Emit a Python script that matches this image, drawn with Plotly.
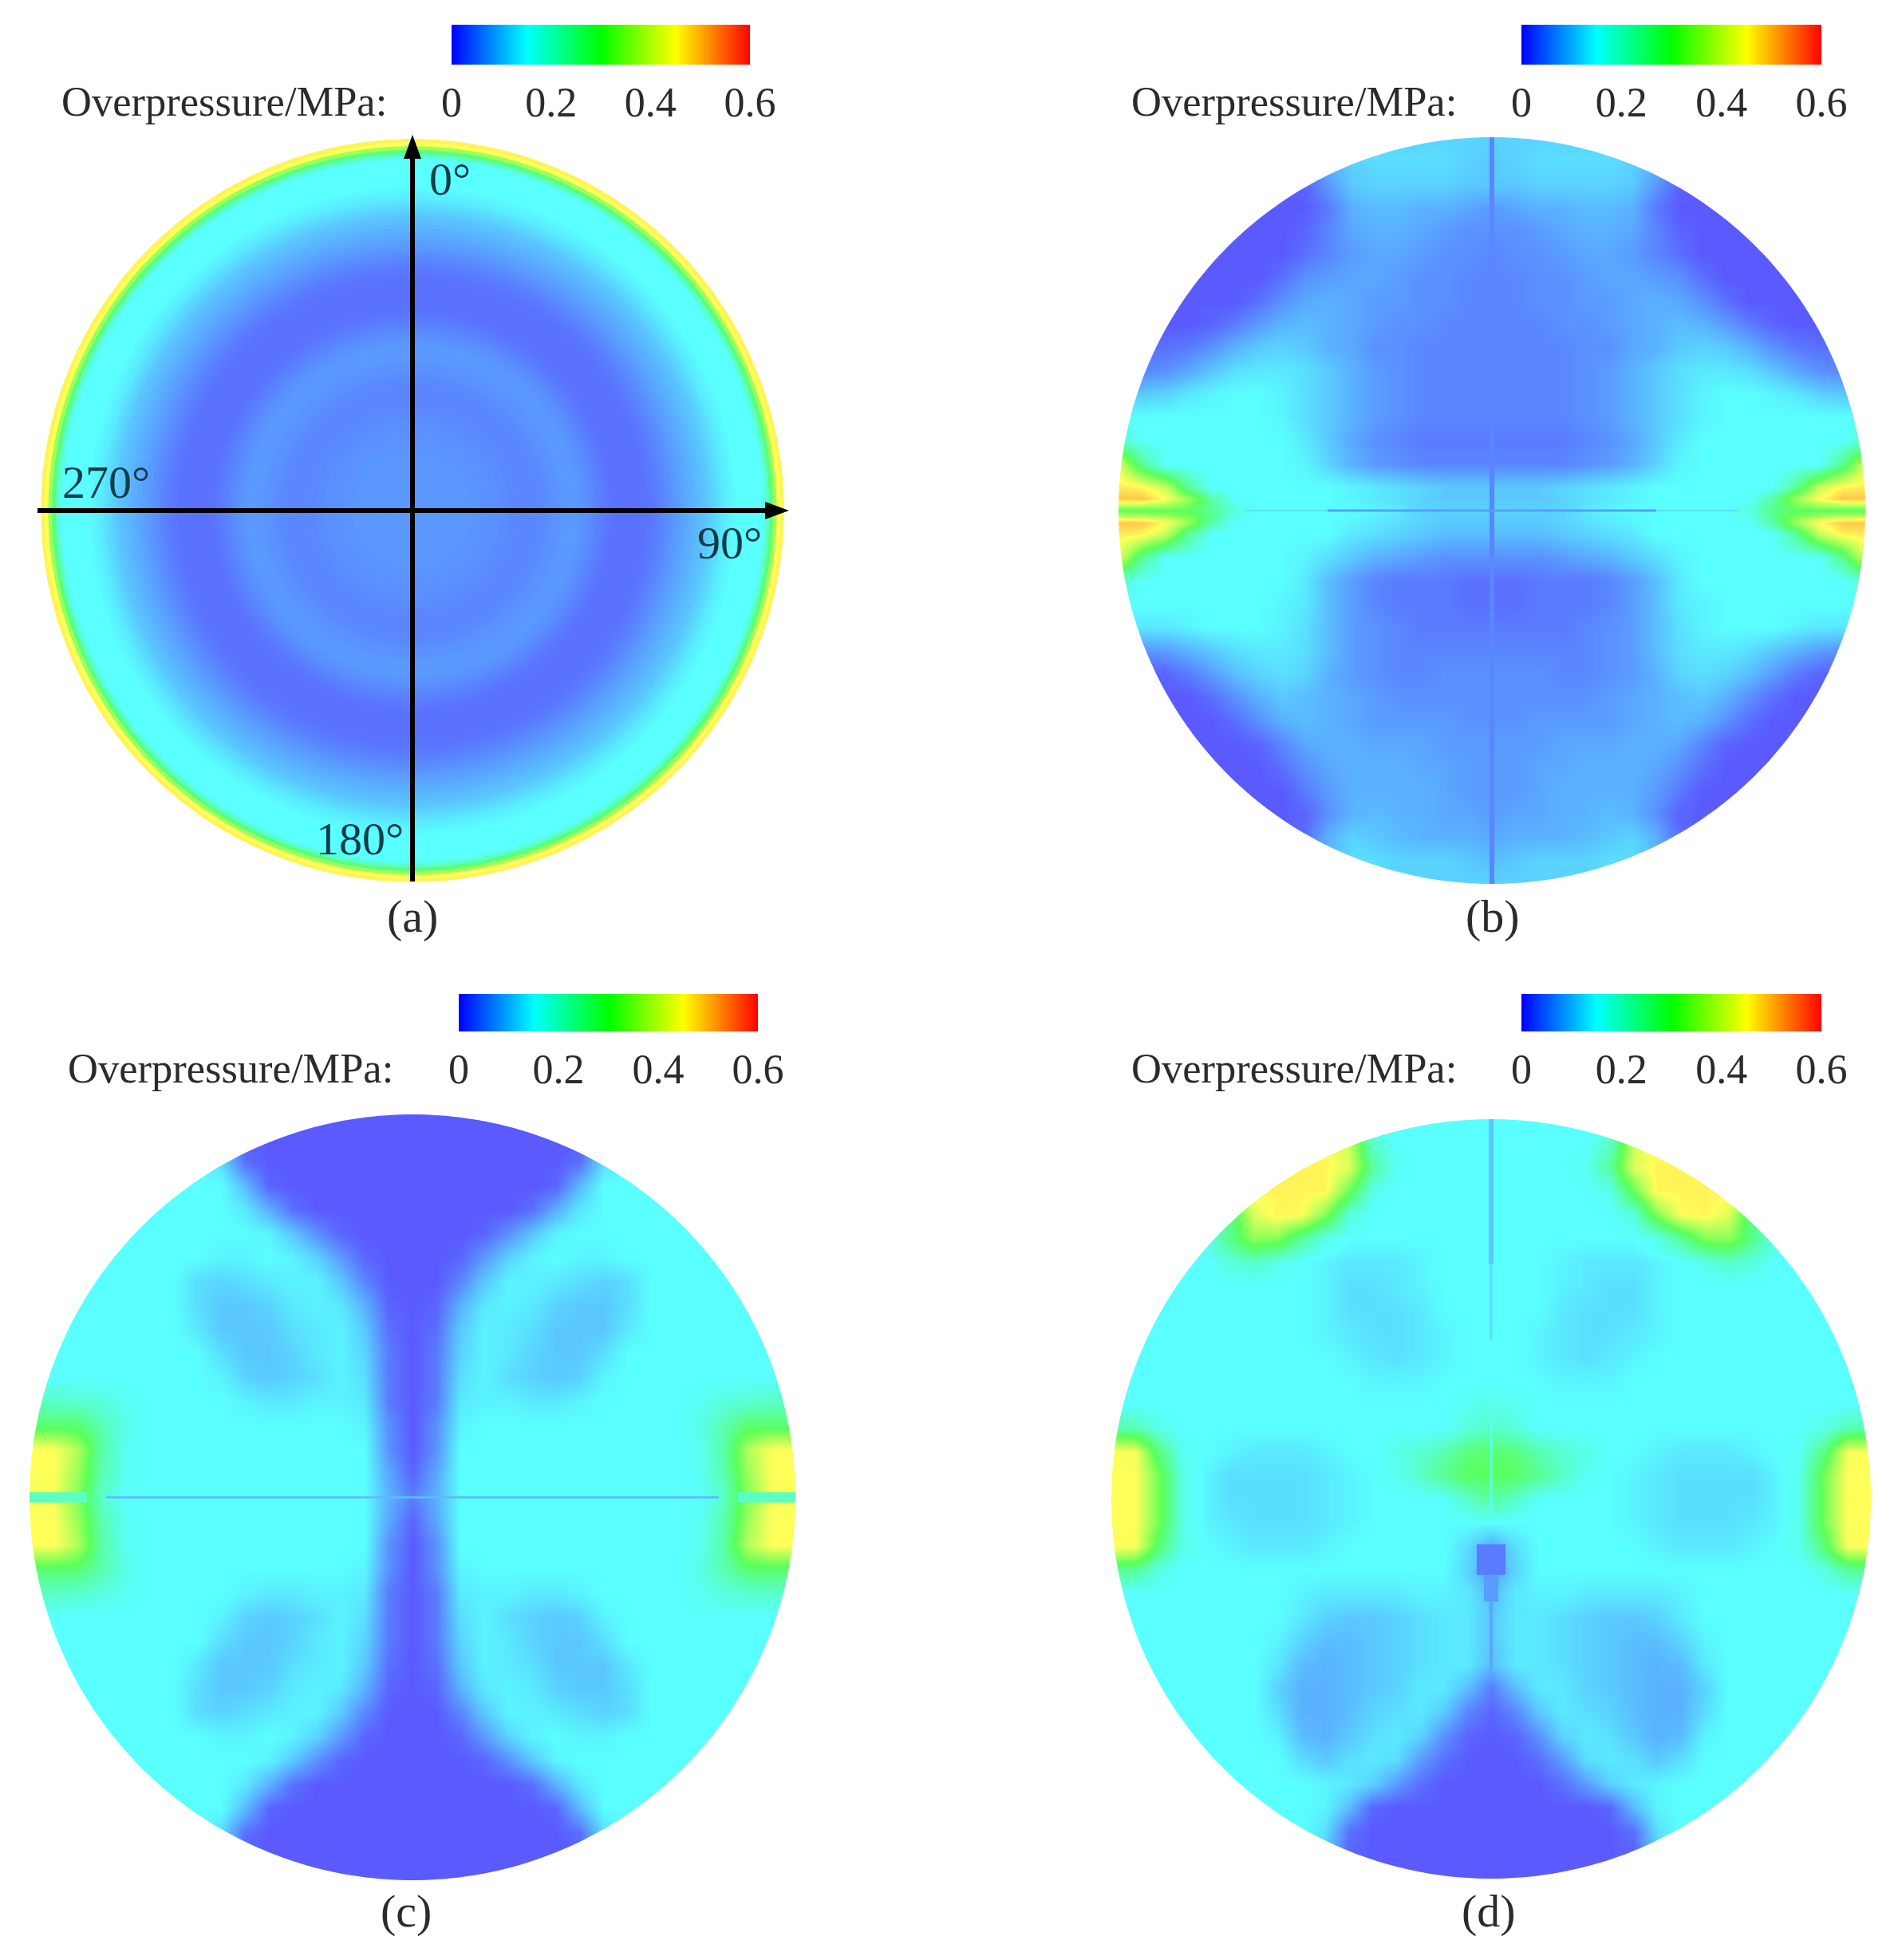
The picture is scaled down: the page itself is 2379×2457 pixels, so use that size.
import numpy as np
import plotly.graph_objects as go

W, H = 2379, 2457
FONT = "Liberation Serif"
TXT = "#2b2b2b"

# Colour bar ramp and ticks (MPa)
BAR_VALUES = [0, 0.05, 0.1, 0.15, 0.2, 0.25, 0.3, 0.35, 0.4, 0.45, 0.5, 0.55, 0.6]
BAR_TICKS = [0, 0.2, 0.4, 0.6]
BAR_TICKTEXT = ["0", "0.2", "0.4", "0.6"]
BAR_TITLE = "Overpressure/MPa:"
PANEL_LABELS = ["(a)", "(b)", "(c)", "(d)"]
ANGLE_LABELS = ["0°", "90°", "180°", "270°"]

# Panel (a): radially symmetric, radius fraction and overpressure (0.01 MPa)
A_RADII = [1.0, .99, .98, .97, .96, .95, .94, .93, .92, .91, .90, .89, .88, .87, .86, .85, .84, .83, .82, .81,
           .80, .79, .78, .77, .76, .75, .74, .73, .72, .71, .70, .69, .68, .67, .66, .65, .64, .63, .62, .61,
           .60, .59, .58, .57, .56, .55, .54, .53, .52, .51, .50, .49, .48, .47, .46, .45, .44, .43, .42, .41,
           .40, .39, .38, .37, .36, .35, .34, .32, .30, .28, .26, .24, .22, .20, .18, .16, .14, .12, .10, .08,
           .06, .04, .02]
A_VALUES = [46, 45, 36, 27, 20, 16, 15, 15, 15, 15, 15, 15, 15, 14.5, 14, 13.5, 13, 12.2, 11.5, 10.8,
            10, 9.5, 9, 8.5, 8, 7.5, 7, 6.5, 6, 5.5, 5, 4.5, 4, 3.5, 3.1, 2.8, 2.5, 2.3, 2.2, 2.1,
            2, 2, 2, 2, 2.1, 2.2, 2.4, 2.7, 3, 3.4, 3.8, 4.2, 4.6, 5, 5.3, 5.6, 5.8, 5.8, 5.7, 5.5,
            5.3, 5.1, 4.9, 4.6, 4.4, 4.2, 4, 4, 4, 4.3, 4.5, 4.8, 5, 5.2, 5.4, 5.5, 5.5, 5.5, 5.5, 5.5,
            5.5, 5.5, 5.5]

# Panels (b)-(d): rows from top to bottom, columns from centre to right rim (0.01 MPa).
# Short rows repeat their last value up to the rim.
B_ROWS = [
    [11],
    [10, 11, 12, 12, 12, 12, 11, 8, 3, 0],
    [10, 10, 11, 11, 11, 11, 10, 6, 1, 0],
    [6, 7, 8, 8, 9, 9, 8, 3, 0],
    [5, 5, 6, 7, 8, 8, 7, 4, 1, 0],
    [4, 5, 5, 6, 7, 7, 6, 4, 2, 0],
    [4, 4, 5, 5, 6, 7, 7, 6, 5, 2, 0],
    [4, 4, 5, 5, 6, 6, 7, 8, 7, 5, 2, 0],
    [4, 4, 4, 5, 5, 6, 7, 8, 9, 8, 6, 3, 1, 0],
    [4, 4, 4, 4, 5, 5, 7, 8, 10, 11, 10, 8, 5, 3, 2],
    [4, 4, 4, 4, 5, 6, 8, 10, 12, 13, 13, 12, 10, 7, 5, 4],
    [4, 4, 4, 4, 5, 6, 8, 10, 12, 14, 15, 15, 14, 13, 11, 10],
    [4, 4, 4, 4, 5, 6, 8, 10, 12, 14, 15],
    [3, 3, 3, 3, 4, 5, 7, 10, 13, 15, 15, 15, 15, 15, 15, 15, 20],
    [4, 4, 4, 4, 5, 6, 8, 11, 14, 15, 15, 15, 15, 15, 15, 25, 42],
    [10, 10, 10, 11, 12, 13, 14, 15, 15, 15, 15, 15, 15, 24, 40, 46, 47],
    [10, 10, 10, 11, 12, 13, 14, 15, 15, 15, 15, 15, 23, 36, 45, 50, 50],
    [11, 11, 11, 11, 13, 14, 15, 15, 15, 15, 15, 18, 25, 30, 30, 30, 30],
    [10, 10, 10, 11, 12, 13, 14, 15, 15, 15, 15, 15, 23, 36, 45, 50, 50],
    [9, 9, 9, 10, 11, 12, 13, 15, 15, 15, 15, 15, 15, 24, 40, 46, 47],
    [5, 5, 5, 6, 7, 8, 10, 12, 14, 15, 15, 15, 15, 15, 15, 25, 42],
    [2, 2, 3, 3, 3, 4, 6, 9, 13, 15, 15, 15, 15, 15, 15, 15, 20],
    [2, 2, 3, 3, 3, 4, 6, 9, 13, 14, 15],
    [3, 3, 3, 3, 4, 5, 6, 9, 12, 14, 15, 15, 15, 14, 13],
    [4, 4, 4, 4, 4, 5, 6, 9, 12, 13, 13, 12, 10, 8, 6, 5, 4],
    [5, 5, 5, 4, 4, 5, 6, 8, 11, 12, 11, 9, 6, 3, 1, 0],
    [5, 5, 5, 5, 5, 6, 7, 8, 9, 10, 8, 5, 2, 0],
    [5, 5, 6, 6, 6, 6, 7, 8, 9, 8, 5, 2, 0],
    [6, 6, 6, 7, 7, 7, 8, 8, 7, 4, 1, 0],
    [6, 6, 7, 7, 8, 8, 8, 7, 5, 2, 0],
    [6, 6, 7, 8, 8, 8, 8, 6, 3, 0],
    [6, 7, 7, 8, 8, 9, 8, 5, 1, 0],
    [7, 8, 8, 8, 9, 10, 11, 8, 2, 0],
    [9, 10, 11, 11, 11, 12, 12, 8, 3, 0],
    [11],
]
# Row heights of panel (b): the regular grid plus two extra rows hugging the centre line
B_Y = [i / 16 for i in range(16, 0, -1)] + [1 / 32, 0, -1 / 32] + [-i / 16 for i in range(1, 17)]
# Panel (c): top half, centre row last; the lower half repeats it upside down.
C_TOP_ROWS = [
    [0, 0, 0, 0, 0, 0, 0, 0, 15],
    [0, 0, 0, 0, 0, 0, 0, 0, 15],
    [0, 0, 0, 0, 0, 0, 0, 2, 12, 15],
    [0, 0, 0, 0, 0, 0, 1, 9, 15],
    [0, 0, 0, 0, 0, 2, 8, 13, 15],
    [0, 0, 0, 1, 5, 10, 14, 15],
    [0, 0, 1, 6, 11, 14, 15, 14, 14, 15],
    [0, 0, 4, 10, 14, 14, 13, 12, 11, 12, 15],
    [0, 1, 8, 13, 14, 13, 11, 10, 10, 12, 15],
    [0, 2, 10, 14, 13, 12, 10, 10, 10, 13, 15],
    [0, 3, 11, 14, 13, 11, 10, 10, 12, 15],
    [0, 3, 12, 14, 12, 11, 10, 11, 14, 15],
    [0, 3, 13, 14, 14, 13, 13, 14, 15, 15, 15, 15, 16, 18, 19, 20, 20],
    [0, 5, 14, 15, 15, 15, 15, 15, 15, 15, 15, 15, 17, 22, 28, 28, 28],
    [0, 5, 15, 15, 15, 15, 15, 15, 15, 15, 15, 15, 16, 23, 38, 45, 45],
    [1, 7, 15, 15, 15, 15, 15, 15, 15, 15, 15, 15, 16, 22, 36, 45, 45],
    [3, 8, 15, 15, 15, 15, 15, 15, 15, 15, 15, 15, 15, 20, 34, 44, 44],
]
D_ROWS = [
    [15],
    [15, 15, 15, 15, 15, 20, 40, 45],
    [15, 15, 15, 15, 16, 24, 42, 46],
    [15, 15, 15, 15, 15, 17, 32, 46, 46, 46, 46],
    [15, 15, 15, 15, 15, 15, 18, 34, 45, 46, 42, 25, 16, 15],
    [15, 15, 15, 15, 15, 15, 15, 17, 24, 34, 35, 26, 17, 15],
    [15, 15, 15, 14, 13, 13, 13, 14, 15, 17, 20, 18, 15],
    [15, 15, 15, 14, 13, 12, 12, 14, 15],
    [15, 15, 15, 13, 12, 12, 12, 14, 15],
    [15, 15, 14, 13, 12, 12, 13, 14, 15],
    [15, 15, 14, 13, 12, 13, 14, 15],
    [15, 15, 15, 14, 14, 14, 15],
    [17, 16, 15],
    [20, 18, 15, 15, 15, 15, 15, 15, 15, 15, 15, 15, 15, 15, 17, 22, 23],
    [28, 27, 22, 19, 17, 15, 15, 14, 13, 13, 13, 14, 15, 16, 26, 44, 45],
    [30, 29, 25, 20, 16, 15, 14, 13, 12, 12, 12, 12, 14, 17, 32, 45, 45],
    [24, 20, 15, 15, 15, 15, 14, 13, 12, 12, 12, 12, 14, 17, 32, 45, 45],
    [15, 15, 15, 15, 15, 15, 14, 13, 12, 12, 12, 13, 14, 17, 32, 45, 45],
    [7, 12, 15, 15, 15, 15, 15, 14, 13, 13, 13, 14, 15, 17, 27, 44, 45],
    [6, 11, 15, 15, 15, 15, 15, 15, 15, 15, 15, 15, 15, 15, 17, 24, 25],
    [9, 13, 14, 14, 13, 13, 13, 13, 14, 15],
    [10, 13, 13, 12, 11, 10, 10, 11, 13, 15],
    [10, 13, 13, 12, 11, 10, 9, 9, 11, 14, 15],
    [9, 13, 13, 12, 11, 10, 9, 8, 9, 13, 15],
    [3, 9, 13, 13, 11, 10, 9, 8, 8, 11, 15],
    [1, 4, 10, 13, 12, 11, 9, 8, 8, 12, 15],
    [0, 1, 5, 11, 13, 12, 10, 8, 9, 14, 15],
    [0, 0, 2, 6, 12, 13, 12, 10, 12, 15],
    [0, 0, 0, 2, 6, 11, 13, 14, 15],
    [0, 0, 0, 0, 0, 1, 9, 14, 15],
    [0, 0, 0, 0, 0, 0, 2, 12, 15],
    [0, 0, 0, 0, 0, 0, 1, 10, 15],
    [0, 0, 0, 0, 0, 0, 0, 0, 15],
]

# Thin seams in the fields: (x0, y0, x1, y1, overpressure 0.01 MPa, width)
B_SEAMS = [(0, 1, 0, -1, 4, 6), (-.66, 0, .66, 0, 12, 2), (-.44, 0, .44, 0, 6, 3)]
C_SEAMS = [(-.8, 0, .8, 0, 9, 3), (-1, 0, -.85, 0, 20, 13), (.85, 0, 1, 0, 20, 13)]
D_SEAMS = [(0, 1, 0, .62, 10, 6), (0, .62, 0, .42, 12.5, 4), (0, .26, 0, -.04, 16, 3),
           (0, -.12, 0, -.2, 3, 36), (0, -.2, 0, -.27, 6, 18), (0, -.27, 0, -.46, 7, 4)]

STOPS_FIELD = [(90, 90, 255), (90, 255, 255), (90, 255, 90), (255, 255, 90), (255, 90, 50)]
STOPS_BAR = [(0, 0, 255), (0, 255, 255), (0, 255, 0), (255, 255, 0), (255, 0, 0)]


def scale(stops):
    return [[i / 4, "rgb(%d,%d,%d)" % s] for i, s in enumerate(stops)]


def field_colour(z):
    t = min(max(z / 60, 0), 1) * 4
    i = min(int(t), 3)
    a, b = STOPS_FIELD[i], STOPS_FIELD[i + 1]
    return "rgb(%d,%d,%d)" % tuple(a[k] + (b[k] - a[k]) * (t - i) for k in range(3))


def pad(row):
    return list(row) + [row[-1]] * (17 - len(row))


def mirror_lr(rows):
    out = []
    for r in rows:
        r = pad(r)
        out.append(r[:0:-1] + r)
    return np.array(out, dtype=float) / 100


B_Z = mirror_lr(B_ROWS)
C_Z = mirror_lr(C_TOP_ROWS + C_TOP_ROWS[-2::-1])
D_Z = mirror_lr(D_ROWS)
GRID = [i / 16 for i in range(-16, 17)]
GRID_DOWN = GRID[::-1]

# Pixel layout of the panels: centre x, centre y, radius
CIRCLES = {"a": (517, 640, 466), "b": (1870, 640, 468), "c": (517, 1877, 480), "d": (1869, 1879, 476)}
BARS = {"a": (566, 31, 940, 81), "b": (1907, 31, 2283, 81), "c": (575, 1246, 950, 1293), "d": (1907, 1246, 2283, 1293)}
TITLE_RIGHT = {"a": 486, "b": 1827, "c": 494, "d": 1827}
LABEL_POS = {"a": (517, 1148), "b": (1871, 1148), "c": (509, 2395), "d": (1866, 2395)}


def dx(v):
    return v / W


def dy(v):
    return 1 - v / H


fig = go.Figure()
layout = dict(width=W, height=H, margin=dict(l=0, r=0, t=0, b=0, autoexpand=False), paper_bgcolor="white",
              plot_bgcolor="white", showlegend=False, autosize=False)
shapes, annotations = [], []
hidden = dict(visible=False, showgrid=False, zeroline=False, fixedrange=True, automargin=False)

# Panel (a) as nested discs
cx, cy, r = CIRCLES["a"]
fig.add_trace(go.Barpolar(r=A_RADII, theta=[0] * len(A_RADII), width=[360] * len(A_RADII),
                          marker=dict(color=[v / 100 for v in A_VALUES], colorscale=scale(STOPS_FIELD), cmin=0, cmax=0.6,
                                      line=dict(width=0)), hoverinfo="skip"))
layout["polar"] = dict(domain=dict(x=[dx(cx - r), dx(cx + r)], y=[dy(cy + r), dy(cy - r)]), barmode="overlay",
                       bgcolor="rgba(0,0,0,0)",
                       radialaxis=dict(visible=False, range=[0, 1]), angularaxis=dict(visible=False))

# Panels (b)-(d) as heatmaps with a white surround
for n, key, z, ys, seams in [(1, "b", B_Z, B_Y, B_SEAMS), (2, "c", C_Z, GRID_DOWN, C_SEAMS), (3, "d", D_Z, GRID_DOWN, D_SEAMS)]:
    cx, cy, r = CIRCLES[key]
    suffix = "" if n == 1 else str(n)
    fig.add_trace(go.Heatmap(z=z, x=GRID, y=ys, zmin=0, zmax=0.6, zsmooth="best", colorscale=scale(STOPS_FIELD),
                             showscale=False, hoverinfo="skip", xaxis="x" + suffix, yaxis="y" + suffix))
    for x0, y0, x1, y1, zv, wd in seams:
        fig.add_trace(go.Scatter(x=[x0, x1], y=[y0, y1], mode="lines", line=dict(color=field_colour(zv), width=wd),
                                 hoverinfo="skip", xaxis="x" + suffix, yaxis="y" + suffix))
    layout["xaxis" + suffix] = dict(domain=[dx(cx - r), dx(cx + r)], range=[-1, 1], **hidden)
    layout["yaxis" + suffix] = dict(domain=[dy(cy + r), dy(cy - r)], range=[-1, 1], **hidden)
    ang = np.linspace(0, 2 * np.pi, 361)
    m = r + 5
    ring = "M %.5f %.5f L %.5f %.5f L %.5f %.5f L %.5f %.5f Z M " % (
        dx(cx - m), dy(cy - m), dx(cx + m), dy(cy - m), dx(cx + m), dy(cy + m), dx(cx - m), dy(cy + m))
    ring += " L ".join("%.5f %.5f" % (dx(cx + r * np.cos(t)), dy(cy + r * np.sin(t))) for t in ang[:-1]) + " Z"
    shapes.append(dict(type="path", path=ring, xref="paper", yref="paper", fillcolor="white",
                       line=dict(width=0), layer="above"))

# Colour bars and their captions
for n, key in enumerate("abcd", start=4):
    x0, y0, x1, y1 = BARS[key]
    fig.add_trace(go.Heatmap(z=[BAR_VALUES], x=BAR_VALUES, y=[0], zmin=0, zmax=0.6, zsmooth="best",
                             colorscale=scale(STOPS_BAR), showscale=False, hoverinfo="skip",
                             xaxis="x%d" % n, yaxis="y%d" % n))
    layout["xaxis%d" % n] = dict(domain=[dx(x0), dx(x1)], range=[0, 0.6], tickvals=BAR_TICKS, ticktext=BAR_TICKTEXT,
                                 ticks="outside", ticklen=2, tickcolor="rgba(0,0,0,0)", showgrid=False, zeroline=False,
                                 showline=False, fixedrange=True, anchor="y%d" % n, automargin=False,
                                 tickfont=dict(family=FONT, size=52, color=TXT))
    layout["yaxis%d" % n] = dict(domain=[dy(y1), dy(y0)], range=[-0.5, 0.5], anchor="x%d" % n, **hidden)
    annotations.append(dict(x=dx(TITLE_RIGHT[key] + 1), y=dy(y1 + 46), xref="paper", yref="paper", text=BAR_TITLE,
                            showarrow=False, xanchor="right", yanchor="middle",
                            font=dict(family=FONT, size=52.5, color=TXT)))

for key, label in zip("abcd", PANEL_LABELS):
    px_, py_ = LABEL_POS[key]
    annotations.append(dict(x=dx(px_), y=dy(py_), xref="paper", yref="paper", text=label, showarrow=False,
                            font=dict(family=FONT, size=58, color=TXT), xanchor="center", yanchor="middle"))

for label, (px_, py_) in zip(ANGLE_LABELS, [(564, 224), (914, 680), (451, 1051), (133, 605)]):
    annotations.append(dict(x=dx(px_), y=dy(py_), xref="paper", yref="paper", text=label, showarrow=False,
                            font=dict(family=FONT, size=58, color="#123c48"), xanchor="center", yanchor="middle"))

# Axes with arrow heads on panel (a)
for x0, y0, x1, y1 in [(47, 640, 970, 640), (517, 1105, 517, 190)]:
    shapes.append(dict(type="line", xref="paper", yref="paper", x0=dx(x0), y0=dy(y0), x1=dx(x1), y1=dy(y1),
                       line=dict(color="black", width=6), layer="above"))
heads = [[(989, 640), (959, 629), (959, 651)], [(517, 169), (506, 199), (528, 199)]]
for tri in heads:
    path = "M " + " L ".join("%.5f %.5f" % (dx(a), dy(b)) for a, b in tri) + " Z"
    shapes.append(dict(type="path", path=path, xref="paper", yref="paper", fillcolor="black", line=dict(width=0),
                       layer="above"))

layout["shapes"] = shapes
layout["annotations"] = annotations
fig.update_layout(**layout)
fig.write_html("out.html", config={"displayModeBar": False}, post_script="document.body.style.margin='0';")
